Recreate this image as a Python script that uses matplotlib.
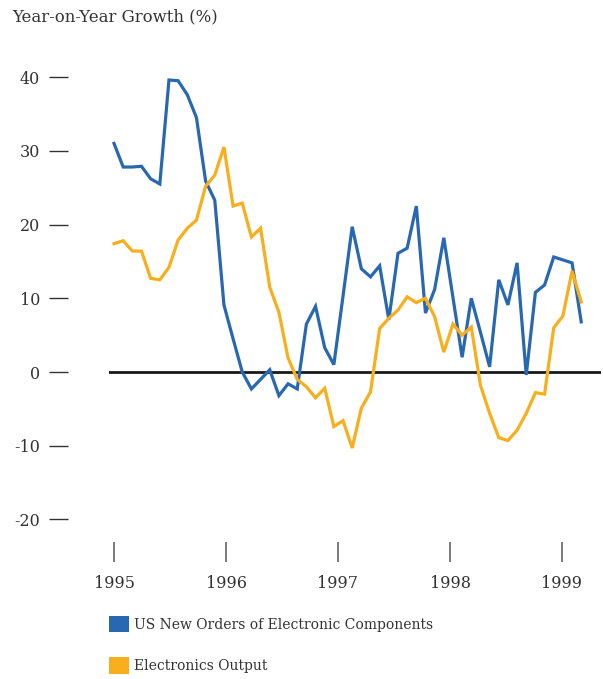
import numpy as np
import matplotlib
matplotlib.use("Agg")
import matplotlib.pyplot as plt
from matplotlib.patches import Patch

# Data (monthly readings, Jan 1995 onwards)
orders = [31.0, 27.8, 27.8, 27.9, 26.2, 25.5, 39.6, 39.5, 37.6, 34.5,
          25.9, 23.3, 9.1, 4.5, 0.0, -2.3, -1.0, 0.3, -3.2, -1.6,
          -2.3, 6.5, 8.9, 3.3, 1.0, 10.3, 19.7, 14.0, 12.9, 14.4,
          7.1, 16.1, 16.8, 22.5, 8.0, 11.2, 18.2, 10.1, 2.0, 10.0,
          5.4, 0.7, 12.5, 9.1, 14.8, -0.4, 10.8, 11.8, 15.6, 15.2,
          14.8, 6.8]
output = [17.4, 17.8, 16.4, 16.4, 12.7, 12.5, 14.2, 17.9, 19.5, 20.6,
          25.2, 26.7, 30.5, 22.5, 22.9, 18.3, 19.5, 11.5, 8.1, 1.9,
          -1.0, -2.0, -3.5, -2.2, -7.4, -6.6, -10.3, -4.9, -2.7, 5.9,
          7.3, 8.4, 10.2, 9.4, 10.0, 7.5, 2.7, 6.5, 5.0, 6.1,
          -1.8, -5.6, -8.9, -9.3, -7.9, -5.6, -2.8, -3.0, 6.0, 7.6,
          13.7, 9.5]
year_labels = ['1995', '1996', '1997', '1998', '1999']
year_pos = [0, 12.23, 24.45, 36.68, 48.9]
y_ticks = [40, 30, 20, 10, 0, -10, -20]
series_names = ['US New Orders of Electronic Components', 'Electronics Output']

blue = '#2868b2'
orange = '#f9ae1b'
text_color = '#333333'

plt.rcParams['font.family'] = ['DejaVu Serif']

W, H = 603, 679
fig = plt.figure(figsize=(W / 100, H / 100), dpi=100)

# axes box in pixels
left, right, top, bottom = 109, 601, 62.3, 541.6
ax = fig.add_axes([left / W, 1 - bottom / H, (right - left) / W, (bottom - top) / H])

x = np.arange(len(orders))
ax.axhline(0, color='#1a1a1a', lw=2, zorder=1)
ax.plot(x, orders, color=blue, lw=2.3, zorder=2, solid_joinstyle='miter')
ax.plot(x, output, color=orange, lw=2.3, zorder=3, solid_joinstyle='miter')

ax.set_xlim(-0.546, 53.16)
ax.set_ylim(-23, 42)

ax.set_xticks(year_pos)
ax.set_xticklabels(year_labels)
ax.set_yticks(y_ticks)
ax.set_yticklabels([str(v) for v in y_ticks])

for s in ['top', 'right', 'bottom']:
    ax.spines[s].set_visible(False)
ax.spines['left'].set_position(('outward', 29.5))
ax.spines['left'].set_color('none')

ax.tick_params(axis='x', direction='out', length=14.4, width=1.1,
               color='#555555', pad=9.5, labelsize=11.5, labelcolor=text_color)
ax.tick_params(axis='y', direction='out', length=13.7, width=1.0,
               color='#333333', pad=6.5, labelsize=11.5, labelcolor=text_color)

fig.text(12 / W, 1 - 17 / H, 'Year-on-Year Growth (%)', fontsize=11.9,
         color=text_color, va='center', ha='left')

handles = [Patch(facecolor=blue, edgecolor='none'),
           Patch(facecolor=orange, edgecolor='none')]
fs = 10
fpx = fs * 100 / 72
fig.legend(handles, series_names, loc='upper left',
           bbox_to_anchor=(left / W, 1 - 616 / H), frameon=False,
           fontsize=fs, labelcolor=text_color, borderpad=0, borderaxespad=0,
           handlelength=20 / fpx, handleheight=20 / fpx,
           handletextpad=5 / fpx, labelspacing=25 / fpx)

fig.savefig('out.png', dpi=100)
